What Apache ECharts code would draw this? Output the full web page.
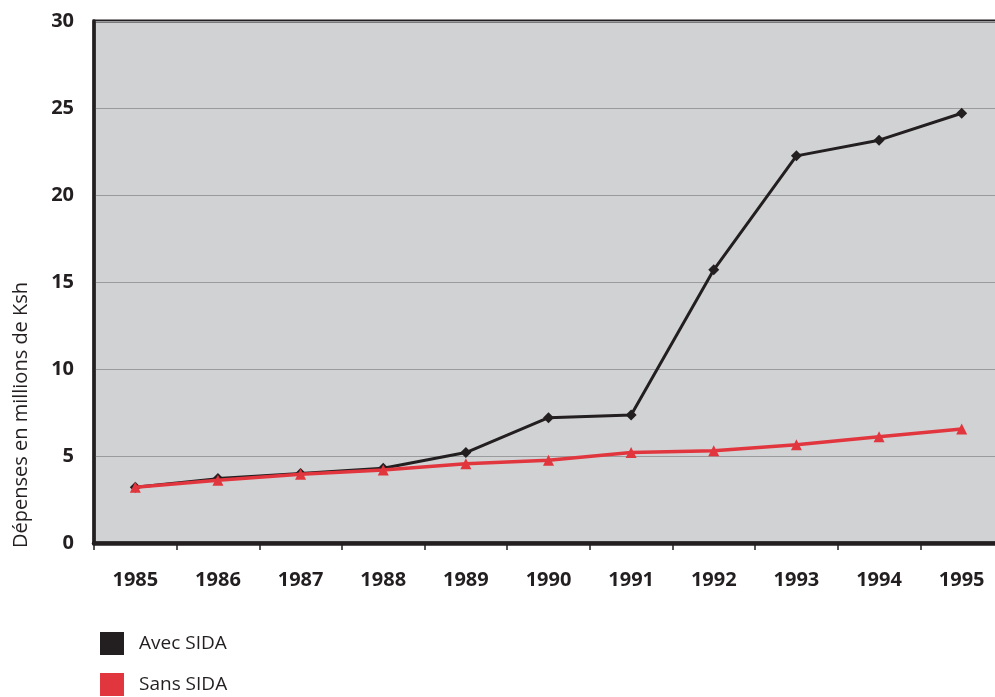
<!DOCTYPE html>
<html>
<head>
<meta charset="utf-8">
<script src="https://cdn.jsdelivr.net/npm/echarts@6/dist/echarts.min.js"></script>
<style>
    html, body { margin: 0; padding: 0; background: #fff; }
    #chart { width: 995px; height: 697px; }
</style>
</head>
<body>
<div id="chart"></div>
<script>
// années
var years = ['1985', '1986', '1987', '1988', '1989', '1990', '1991', '1992', '1993', '1994', '1995'];
// dépenses (millions de Ksh)
var avecSida = [3.2, 3.7, 4.0, 4.3, 5.2, 7.2, 7.35, 15.7, 22.25, 23.15, 24.7];
var sansSida = [3.2, 3.6, 3.95, 4.2, 4.55, 4.75, 5.2, 5.3, 5.65, 6.1, 6.55];
var yTicks = [0, 5, 10, 15, 20, 25, 30];

var myChart = echarts.init(document.getElementById('chart'));

var option = {
    backgroundColor: '#ffffff',
    animation: false,
    grid: {
        left: 94,
        right: -8,
        top: 21,
        bottom: 154,
        outerBoundsMode: 'none',
        containLabel: false,
        show: true,
        backgroundColor: '#d1d2d4',
        borderColor: '#231f20',
        borderWidth: 3
    },
    legend: {
        orient: 'vertical',
        left: 100,
        top: 632,
        padding: 0,
        itemWidth: 24,
        itemHeight: 23,
        itemGap: 18,
        icon: 'rect',
        textStyle: {
            fontFamily: 'Open Sans',
            fontSize: 19,
            color: '#231f20',
            padding: [0, 0, 0, 10]
        },
        data: ['Avec SIDA', 'Sans SIDA']
    },
    graphic: [
        {
            type: 'text',
            x: 11,
            y: 548,
            rotation: Math.PI / 2,
            style: {
                text: 'Dépenses en millions de Ksh',
                fontFamily: 'Open Sans',
                fontSize: 20,
                fill: '#231f20',
                textAlign: 'left',
                textVerticalAlign: 'top'
            }
        }
    ],
    xAxis: {
        type: 'category',
        boundaryGap: true,
        data: years,
        axisLine: { lineStyle: { color: '#231f20', width: 4.5 } },
        axisTick: { show: true, length: 7, lineStyle: { color: '#231f20', width: 1.5 } },
        axisLabel: {
            margin: 27,
            fontFamily: 'Open Sans',
            fontWeight: 'bold',
            fontSize: 20,
            color: '#231f20'
        },
        splitLine: { show: false }
    },
    yAxis: {
        type: 'value',
        min: yTicks[0],
        max: yTicks[yTicks.length - 1],
        interval: 5,
        axisLine: { show: true, lineStyle: { color: '#231f20', width: 3.5 } },
        axisTick: { show: false },
        axisLabel: {
            margin: 20,
            fontFamily: 'Open Sans',
            fontWeight: 'bold',
            fontSize: 20,
            color: '#231f20'
        },
        splitLine: { lineStyle: { color: '#9a9b9d', width: 1.2 } }
    },
    series: [
        {
            name: 'Avec SIDA',
            type: 'line',
            data: avecSida,
            symbol: 'diamond',
            symbolSize: 11,
            itemStyle: { color: '#231f20' },
            lineStyle: { color: '#231f20', width: 3 },
            z: 2
        },
        {
            name: 'Sans SIDA',
            type: 'line',
            data: sansSida,
            symbol: 'triangle',
            symbolSize: 11,
            itemStyle: { color: '#e2363f' },
            lineStyle: { color: '#e2363f', width: 3.5 },
            z: 3
        }
    ]
};

myChart.setOption(option);
</script>
</body>
</html>
